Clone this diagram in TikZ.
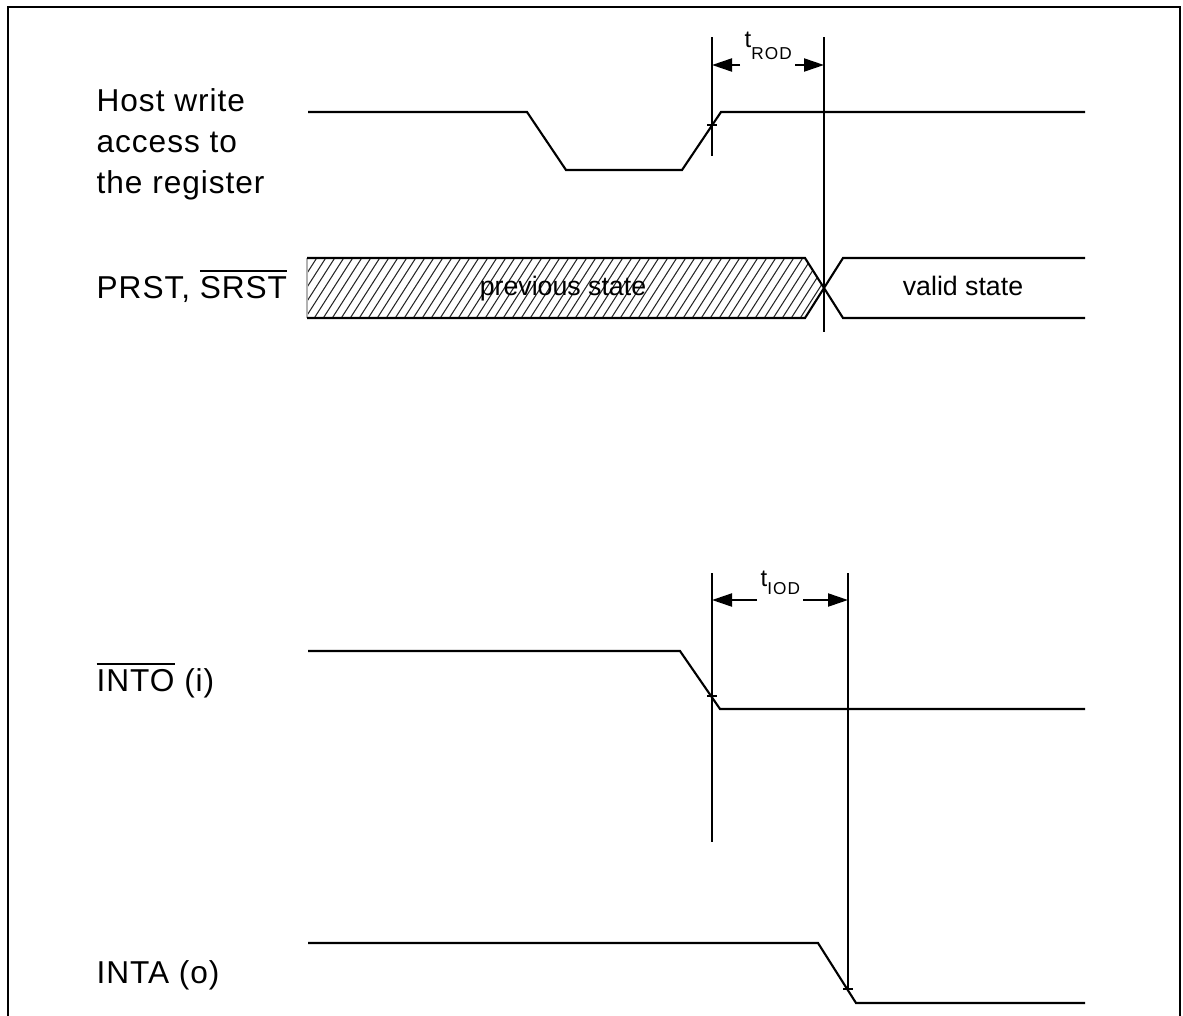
\documentclass[tikz,border=0pt]{standalone}
\usepackage{fontspec}
\setmainfont{Liberation Sans}
\usetikzlibrary{arrows.meta}
\tikzset{
  >={Triangle[length=2mm,width=1.3mm]},
  frm/.style={line width=0.75pt},
  sig/.style={line width=0.6pt,line join=miter},
  tmark/.style={line width=0.6pt},
  dim/.style={->,line width=0.6pt},
  hatch/.style={line width=0.3pt,black!85},
  lbl/.style={inner sep=0pt,font=\fontsize{9}{11.6}\selectfont\addfontfeatures{LetterSpace=3}},
  stt/.style={inner sep=0pt,anchor=base,font=\fontsize{7.6}{9}\selectfont},
  tlbl/.style={inner sep=0pt,anchor=base west,font=\fontsize{6.8}{7}\selectfont},
}
\newcommand{\tsub}[2]{t\raisebox{#1}{\fontsize{4.9}{5}\selectfont\addfontfeatures{LetterSpace=6}#2}}

\begin{document}
\begin{tikzpicture}[x=0.1mm,y=-0.1mm]
  \useasboundingbox (0,0) rectangle (1183,1015);
  % --- frame (open at the bottom) ---
  \draw[frm] (8,1016) -- (8,7) -- (1180,7) -- (1180,1016);
  % --- signal names ---
  \node[lbl,anchor=north west,align=left] (host) at (96,88) {Host write\\access to\\the register};
  \node[lbl,anchor=base west] (prst) at (96,298) {PRST, $\overline{\mbox{SRST}}$};
  \node[lbl,anchor=base west] (into) at (96,691) {$\overline{\mbox{INTO}}$ (i)};
  \node[lbl,anchor=base west] (inta) at (96,983) {INTA (o)};
  % --- host write access ---
  \draw[sig] (308,112) -- (527,112) -- (566,170) -- (682,170) -- (721,112) -- (1085,112);
  % --- PRST / SRST bus ---
  \begin{scope}
    \clip (307,258) -- (805,258) -- (824,288) -- (805,318) -- (307,318) -- cycle;
    \foreach \x in {250,259,...,830}
      \draw[hatch] (\x,320) -- ++(41,-64);
  \end{scope}
  \draw[gray!60,line width=0.3pt] (307,258) -- (307,318);
  \draw[sig] (307,258) -- (805,258) -- (843,318) -- (1085,318);
  \draw[sig] (307,318) -- (805,318) -- (843,258) -- (1085,258);
  \node[stt] (prev) at (563,295) {previous state};
  \node[stt] (valid) at (963,295) {valid state};
  % --- INTO and INTA ---
  \draw[sig] (308,651) -- (680,651) -- (720,709) -- (1085,709);
  \draw[sig] (308,943) -- (818,943) -- (856,1003) -- (1085,1003);
  % --- timing markers ---
  \coordinate (rodA) at (712,65);
  \coordinate (rodB) at (824,65);
  \coordinate (iodA) at (712,600);
  \coordinate (iodB) at (848,600);
  \draw[tmark] (712,37) -- (712,156);
  \draw[tmark] (824,37) -- (824,332);
  \draw[tmark] (712,573) -- (712,842);
  \draw[tmark] (848,573) -- (848,989);
  \draw[tmark] (707,125) -- (717,125);
  \draw[tmark] (707,696) -- (717,696);
  \draw[tmark] (843,989) -- (853,989);
  % --- delays ---
  \draw[dim] ([xshift=2.8mm]rodA) -- (rodA);
  \draw[dim] ([xshift=-2.9mm]rodB) -- (rodB);
  \draw[dim] ([xshift=4.5mm]iodA) -- (iodA);
  \draw[dim] ([xshift=-4.5mm]iodB) -- (iodB);
  \node[tlbl] (trod) at (744,47) {\tsub{-1.2mm}{ROD}};
  \node[tlbl] (tiod) at (760,586) {\tsub{-0.8mm}{IOD}};
\end{tikzpicture}
\end{document}
